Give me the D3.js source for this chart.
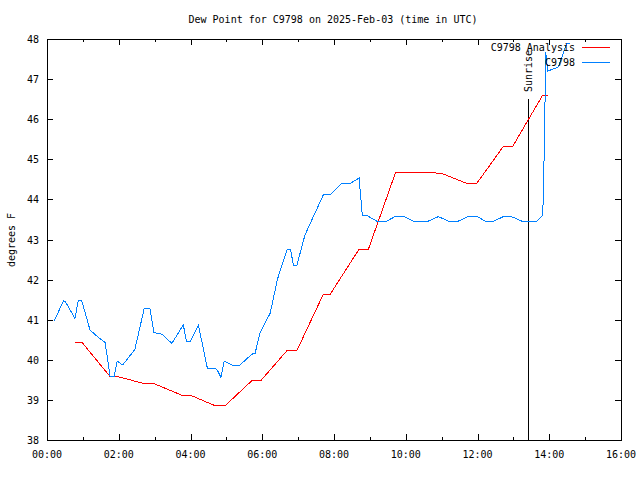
<!DOCTYPE html>
<html><head><meta charset="utf-8">
<script src="https://cdn.jsdelivr.net/npm/d3@7"></script>
<style>body{margin:0;background:#fff}svg{display:block}text{font-family:"DejaVu Sans Mono",monospace;font-size:10px;fill:#000}</style>
</head><body>
<script>
const titleText = "Dew Point for C9798 on 2025-Feb-03 (time in UTC)";
const yLabelText = "degrees F";
const xTickHours = [0,2,4,6,8,10,12,14,16];
const yTickValues = [38,39,40,41,42,43,44,45,46,47,48];
const sunriseHour = 13.42;
const sunriseTop = 46.5;
const analysisName = "C9798 Analysis";
const obsName = "C9798";
const analysisHours = [0.78,0.97,1.76,1.97,2.70,2.97,3.75,3.99,4.70,4.96,5.71,5.96,6.68,6.96,7.70,7.89,8.70,8.96,9.72,10.45,11.00,11.70,11.98,12.72,12.98,13.81,13.97];
const analysisValues = [40.44,40.44,39.58,39.58,39.41,39.41,39.12,39.12,38.85,38.85,39.48,39.48,40.22,40.22,41.63,41.63,42.76,42.76,44.68,44.68,44.65,44.40,44.40,45.32,45.32,46.59,46.59];
const obsHours = [0.20,0.46,0.52,0.78,0.87,0.97,1.20,1.43,1.62,1.76,1.87,1.96,2.11,2.45,2.71,2.87,2.98,3.20,3.48,3.80,3.89,3.99,4.22,4.47,4.73,4.85,4.94,5.15,5.38,5.71,5.80,5.94,6.22,6.42,6.49,6.70,6.79,6.87,6.96,7.19,7.70,7.89,8.21,8.45,8.70,8.79,8.93,9.19,9.47,9.70,9.95,10.21,10.63,10.91,11.19,11.47,11.74,12.00,12.21,12.46,12.72,12.95,13.23,13.65,13.76,13.82,13.87,13.90,13.96,14.25,14.49,14.58];
const obsValues = [40.97,41.47,41.44,41.03,41.47,41.47,40.74,40.56,40.43,39.58,39.58,39.97,39.87,40.26,41.28,41.28,40.68,40.64,40.41,40.87,40.45,40.45,40.87,39.79,39.77,39.56,39.97,39.87,39.87,40.14,40.16,40.68,41.16,41.99,42.21,42.76,42.76,42.34,42.34,43.11,44.11,44.11,44.40,44.40,44.53,43.59,43.59,43.46,43.46,43.57,43.57,43.46,43.46,43.57,43.46,43.46,43.57,43.57,43.46,43.46,43.57,43.57,43.46,43.46,43.55,43.60,45.60,47.68,47.20,47.30,47.89,47.89];

const W=640,H=480, L=47, R=621, T=39, B=440;
const svg=d3.select("body").append("svg").attr("width",W).attr("height",H);
const x=d3.scaleLinear().domain([0,16]).range([L,R]);
const y=d3.scaleLinear().domain([38,48]).range([B,T]);
const fmt=h=>String(h).padStart(2,"0")+":00";
const minor=d3.range(1,16,2);

svg.append("rect").attr("x",L+0.5).attr("y",T+0.5).attr("width",R-L).attr("height",B-T)
  .attr("fill","none").attr("stroke","#000").attr("shape-rendering","crispEdges");

const g=svg.append("g").attr("shape-rendering","crispEdges").attr("stroke","#000");
xTickHours.forEach(h=>{
  const px=Math.round(x(h))+0.5;
  g.append("line").attr("x1",px).attr("x2",px).attr("y1",B).attr("y2",B-6);
  g.append("line").attr("x1",px).attr("x2",px).attr("y1",T).attr("y2",T+6);
});
minor.forEach(h=>{
  const px=Math.round(x(h))+0.5;
  g.append("line").attr("x1",px).attr("x2",px).attr("y1",B).attr("y2",B-3);
  g.append("line").attr("x1",px).attr("x2",px).attr("y1",T).attr("y2",T+3);
});
yTickValues.forEach(v=>{
  const py=Math.round(y(v))+0.5;
  g.append("line").attr("x1",L).attr("x2",L+6).attr("y1",py).attr("y2",py);
  g.append("line").attr("x1",R).attr("x2",R-6).attr("y1",py).attr("y2",py);
});

svg.append("g").selectAll("text").data(xTickHours).join("text")
  .attr("x",d=>x(d)).attr("y",B+18).attr("text-anchor","middle").text(fmt);
svg.append("g").selectAll("text").data(yTickValues).join("text")
  .attr("x",L-8).attr("y",d=>y(d)+4).attr("text-anchor","end").text(d=>d);

svg.append("text").attr("x",333).attr("y",23).attr("text-anchor","middle").text(titleText);
svg.append("text").attr("transform","translate(15,240) rotate(-90)").attr("text-anchor","middle").text(yLabelText);

svg.append("line").attr("x1",Math.round(x(sunriseHour))+0.5).attr("x2",Math.round(x(sunriseHour))+0.5)
  .attr("y1",B).attr("y2",y(sunriseTop)).attr("stroke","#000").attr("shape-rendering","crispEdges");
svg.append("text").attr("transform",`translate(${x(sunriseHour)+4},92) rotate(-90)`).attr("text-anchor","start").text("Sunrise");

const line=d3.line().x(d=>x(d[0])).y(d=>y(d[1]));
svg.append("path").datum(analysisHours.map((h,i)=>[h,analysisValues[i]]))
  .attr("d",line).attr("fill","none").attr("stroke","#ff0000").attr("stroke-width",1).attr("shape-rendering","crispEdges");
svg.append("path").datum(obsHours.map((h,i)=>[h,obsValues[i]]))
  .attr("d",line).attr("fill","none").attr("stroke","#0080ff").attr("stroke-width",1).attr("shape-rendering","crispEdges");

const leg=[[analysisName,"#ff0000",47],[obsName,"#0080ff",62]];
leg.forEach(([n,c,ly])=>{
  svg.append("text").attr("x",575).attr("y",ly+4).attr("text-anchor","end").text(n);
  svg.append("line").attr("x1",582).attr("x2",610).attr("y1",ly+0.5).attr("y2",ly+0.5).attr("stroke",c).attr("shape-rendering","crispEdges");
});
</script>
</body></html>
